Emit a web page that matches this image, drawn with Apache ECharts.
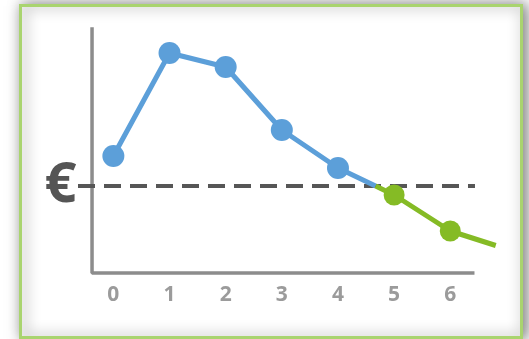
<!DOCTYPE html>
<html>
<head>
<meta charset="utf-8">
<script src="https://cdn.jsdelivr.net/npm/echarts@6/dist/echarts.min.js"></script>
<style>
html,body{margin:0;padding:0;background:#fff;}
#chart{width:529px;height:339px;}
</style>
</head>
<body>
<div id="chart"></div>
<script>
// Periods (x axis tick labels)
const periods = [0, 1, 2, 3, 4, 5, 6];
// Cash position values, blue part (periods 0..4)
const blueValues = [3.0, 13.3, 11.9, 5.6, 1.8];
// Green part (periods 5..6)
const greenValues = [-0.9, -4.5];
// Break-even crossing between period 4 and 5, and tail of the green line
const crossingX = 4.67;
const breakEven = 0;
const tailPoint = [6.81, -5.95];
// Dashed break-even line extent
const breakEvenExtent = [-0.63, 6.44];
// Drawn axes extent (x from, x to; y from, y to)
const axisXExtent = [-0.38, 6.4];
const axisYExtent = [-8.7, 15.7];
const currencySymbol = '€';

const blueData = blueValues.map((v, i) => [periods[i], v]);
blueData.push({ value: [crossingX, breakEven], symbol: 'none' });

const greenData = [{ value: [crossingX, breakEven], symbol: 'none' }];
greenValues.forEach((v, i) => greenData.push([periods[blueValues.length + i], v]));
greenData.push({ value: tailPoint, symbol: 'none' });

const axesData = [
  [axisXExtent[0], axisYExtent[1]],
  [axisXExtent[0], axisYExtent[0]],
  [axisXExtent[1], axisYExtent[0]]
];

const chart = echarts.init(document.getElementById('chart'), null, { renderer: 'canvas' });
chart.setOption({
  animation: false,
  backgroundColor: '#ffffff',
  graphic: [{
    type: 'rect',
    z: -10,
    silent: true,
    shape: { x: 20.5, y: 5.5, width: 501, height: 332 },
    style: {
      fill: '#ffffff',
      stroke: '#a9d46f',
      lineWidth: 3,
      shadowBlur: 14,
      shadowOffsetX: 3,
      shadowColor: 'rgba(0,0,0,0.5)'
    }
  }],
  grid: { left: 78, right: 31, top: 29, bottom: 66 },
  xAxis: {
    type: 'value',
    min: -0.63,
    max: 6.85,
    splitNumber: 8,
    axisLine: { show: false },
    axisTick: { show: false },
    splitLine: { show: false },
    axisLabel: {
      color: '#9b9b9b',
      fontFamily: 'Open Sans',
      fontWeight: 'bold',
      fontSize: 21,
      margin: 12,
      showMinLabel: false,
      showMaxLabel: false,
      formatter: v => (periods.includes(v) ? String(v) : '')
    }
  },
  yAxis: {
    type: 'value',
    min: axisYExtent[0],
    max: axisYExtent[1],
    axisLine: { show: false },
    axisTick: { show: false },
    splitLine: { show: false },
    axisLabel: { show: false }
  },
  series: [
    {
      type: 'line',
      z: 1,
      clip: false,
      symbol: 'none',
      silent: true,
      data: axesData,
      lineStyle: { color: '#8c8c8c', width: 3.5, cap: 'square' }
    },
    {
      type: 'line',
      z: 2,
      clip: false,
      symbol: 'circle',
      symbolSize: 1,
      showSymbol: true,
      silent: true,
      itemStyle: { color: 'rgba(0,0,0,0)' },
      data: [
        { value: [breakEvenExtent[0], breakEven], label: {
          show: true, position: 'left', distance: 1, formatter: currencySymbol,
          fontFamily: 'Open Sans', fontWeight: 'bold', fontSize: 56, color: '#555555'
        } },
        [breakEvenExtent[1], breakEven]
      ],
      lineStyle: { color: '#565656', width: 4, type: [17, 9] }
    },
    {
      type: 'line',
      z: 3,
      clip: false,
      data: blueData,
      symbol: 'circle',
      symbolSize: 22,
      itemStyle: { color: '#5c9fd9' },
      lineStyle: { color: '#5c9fd9', width: 5 }
    },
    {
      type: 'line',
      z: 4,
      clip: false,
      data: greenData,
      symbol: 'circle',
      symbolSize: 21,
      itemStyle: { color: '#85bb25' },
      lineStyle: { color: '#85bb25', width: 5 }
    }
  ]
});
</script>
</body>
</html>
